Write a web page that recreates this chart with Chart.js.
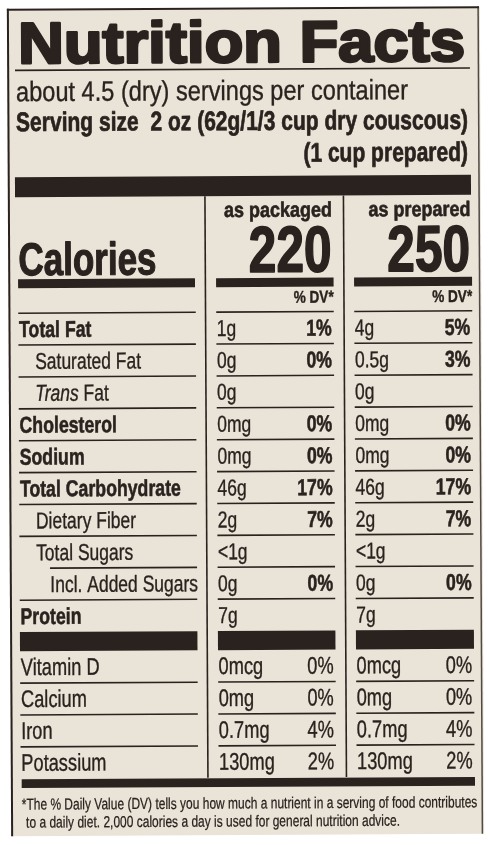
<!DOCTYPE html>
<html>
<head>
<meta charset="utf-8">
<script src="https://cdn.jsdelivr.net/npm/chart.js@4.4.1/dist/chart.umd.min.js"></script>
<style>
  html,body{margin:0;padding:0;background:#ffffff;}
  canvas{display:block;}
</style>
</head>
<body>
<canvas id="c" width="490" height="845"></canvas>
<script>
// ---------- DATA ----------
const titleText = 'Nutrition Facts';
const servingsText = 'about 4.5 (dry) servings per container';
const servingSizeText = 'Serving size  2 oz (62g/1/3 cup dry couscous)';
const servingSize2Text = '(1 cup prepared)';
const columnHeads = ['as packaged', 'as prepared'];
const calories = [220, 250];
const dvHead = '% DV*';
const nutrients = ['Total Fat','Saturated Fat','Trans Fat','Cholesterol','Sodium','Total Carbohydrate',
  'Dietary Fiber','Total Sugars','Incl. Added Sugars','Protein','Vitamin D','Calcium','Iron','Potassium'];
const packagedAmount = ['1g','0g','0g','0mg','0mg','46g','2g','<1g','0g','7g','0mcg','0mg','0.7mg','130mg'];
const packagedDV = ['1%','0%','','0%','0%','17%','7%','','0%','','0%','0%','4%','2%'];
const preparedAmount = ['4g','0.5g','0g','0mg','0mg','46g','2g','<1g','0g','7g','0mcg','0mg','0.7mg','130mg'];
const preparedDV = ['5%','3%','','0%','0%','17%','7%','','0%','','0%','0%','4%','2%'];
const footnote = ['*The % Daily Value (DV) tells you how much a nutrient in a serving of food contributes',
  'to a daily diet. 2,000 calories a day is used for general nutrition advice.'];

// ---------- STYLE ----------
const INK = '#2a221f';
const PAPER = '#e9e4d7';
const FAMILY = '"Liberation Sans", Arial, Helvetica, sans-serif';
const boldRows = new Set(['Total Fat','Cholesterol','Sodium','Total Carbohydrate','Protein']);
const indentLevel = {'Saturated Fat':1,'Trans Fat':1,'Dietary Fiber':1,'Total Sugars':1,'Incl. Added Sugars':2};
const INDENTS = [19.5, 35.4, 49.4];
const vitStart = nutrients.indexOf('Vitamin D');
const GAP = 0.6;            // thick separator between macro and micro nutrients (in row units)
const rowPos = i => i + (i >= vitStart ? GAP : 0);
const LEFT = {x0:18.8, x1:196.3};
const COLS = [
  {x0:216.8, x1:334.3, amt:packagedAmount, dv:packagedDV},
  {x0:354.8, x1:472.8, amt:preparedAmount, dv:preparedDV}
];
const REG_STROKE = 0.35, BOLD_STROKE = 0.55;

function font(size, weight, style){ return `${style||'normal'} ${weight||'normal'} ${size}px ${FAMILY}`; }
function fit(ctx, s, f, target){ ctx.font = f; return target / ctx.measureText(s).width; }
function txt(ctx, s, x, y, f, align, sx, stroke){
  ctx.save();
  ctx.font = f;
  ctx.translate(x, y);
  ctx.scale(sx || 1, 1);
  ctx.textAlign = align || 'left';
  ctx.textBaseline = 'alphabetic';
  ctx.fillStyle = INK;
  ctx.fillText(s, 0, 0);
  if (stroke) { ctx.strokeStyle = INK; ctx.lineWidth = stroke; ctx.lineJoin = 'round'; ctx.strokeText(s, 0, 0); }
  ctx.restore();
}
function rect(ctx, x0, y0, x1, y1){ ctx.fillStyle = INK; ctx.fillRect(x0, y0, x1 - x0, y1 - y0); }

const labelPlugin = {
  id: 'nutritionLabel',
  afterDraw(chart){
    const ctx = chart.ctx;
    const ys = chart.scales.y;
    const pts = chart.getDatasetMeta(0).data;
    ctx.save();
    ctx.fillStyle = '#ffffff';
    ctx.fillRect(0, 0, chart.width, chart.height);
    // slight tilt of the photographed label
    ctx.translate(245, 420); ctx.rotate(-0.0052); ctx.translate(-245, -420);
    ctx.fillStyle = PAPER;
    ctx.fillRect(9, 8, 473, 827);
    // frame
    rect(ctx, 9, 7.5, 481, 9.5);
    rect(ctx, 9, 7.5, 11, 835);
    ctx.globalAlpha = 0.8; rect(ctx, 479.5, 7.5, 481, 835); ctx.globalAlpha = 1;

    // title
    const tf = font(58, 'bold');
    txt(ctx, titleText, 20, 62, tf, 'left', fit(ctx, titleText, tf, 447), 2.6);
    rect(ctx, 16.8, 68.3, 471.8, 70);
    const sf = font(28, 'normal');
    txt(ctx, servingsText, 17.7, 100, sf, 'left', fit(ctx, servingsText, sf, 392), REG_STROKE);
    const bf = font(27, 'bold');
    const bsx = fit(ctx, servingSizeText, bf, 452);
    txt(ctx, servingSizeText, 17.6, 130, bf, 'left', bsx, 0.7);
    txt(ctx, servingSize2Text, 469.4, 162, bf, 'right', bsx, 0.7);
    rect(ctx, 16.2, 176, 472.2, 196);

    // column headers and calories
    const hf = font(21, 'bold');
    const hsx = fit(ctx, columnHeads[0], hf, 108);
    const cf = font(65, 'bold');
    const csx = fit(ctx, String(calories[0]), cf, 83);
    const df = font(17, 'bold');
    const dsx = fit(ctx, dvHead, df, 40);
    COLS.forEach((c, k) => {
      txt(ctx, columnHeads[k], c.x1 - 1.2, 217, hf, 'right', hsx, 0.6);
      txt(ctx, String(calories[k]), c.x1 - 1.8, 272, cf, 'right', csx, 1.6);
      rect(ctx, c.x0, 278, c.x1, 287);
      txt(ctx, dvHead, c.x1, 303, df, 'right', dsx, 0.4);
    });
    const calf = font(46, 'bold');
    txt(ctx, 'Calories', 19.3, 274, calf, 'left', fit(ctx, 'Calories', calf, 138), 1.2);
    rect(ctx, LEFT.x0, 278, LEFT.x1 - 0.6, 287);

    // rows
    const regSx = fit(ctx, 'Saturated Fat', font(23, 'normal'), 106);
    const boldSx = fit(ctx, 'Total Carbohydrate', font(23, 'bold'), 161);
    const top = i => ys.getPixelForValue(rowPos(i) - 0.5);
    const bot = i => ys.getPixelForValue(rowPos(i) + 0.5);
    const LW = 1.6;
    // line above first row
    [LEFT, ...COLS].forEach(c => rect(ctx, c.x0, top(0) - LW / 2, c.x1, top(0) + LW / 2));
    nutrients.forEach((name, i) => {
      const cy = pts[i].y;
      const base = cy + 8;
      const size = i >= vitStart ? 24 : 23;
      const lvl = indentLevel[name] || 0;
      const isBold = boldRows.has(name);
      if (name === 'Trans Fat') {
        const itf = font(size, 'normal', 'italic');
        txt(ctx, 'Trans', INDENTS[lvl], base, itf, 'left', regSx, REG_STROKE);
        ctx.font = itf;
        const w = ctx.measureText('Trans').width * regSx;
        txt(ctx, ' Fat', INDENTS[lvl] + w, base, font(size, 'normal'), 'left', regSx, REG_STROKE);
      } else {
        txt(ctx, name, INDENTS[lvl], base, font(size, isBold ? 'bold' : 'normal'), 'left',
            isBold ? boldSx : regSx, isBold ? BOLD_STROKE : REG_STROKE);
      }
      COLS.forEach(c => {
        txt(ctx, c.amt[i], c.x0 + 0.4, base, font(size, 'normal'), 'left', regSx, REG_STROKE);
        if (c.dv[i]) {
          const micro = i >= vitStart;
          txt(ctx, c.dv[i], c.x1 - 2, base, font(size, micro ? 'normal' : 'bold'), 'right',
              micro ? regSx : boldSx, micro ? REG_STROKE : BOLD_STROKE);
        }
      });
      // separators
      const y = bot(i);
      if (i === vitStart - 1) {
        [LEFT, ...COLS].forEach(c => rect(ctx, c.x0, y, c.x1, top(i + 1)));
      } else if (i < nutrients.length - 1) {
        const nextLvl = indentLevel[nutrients[i + 1]] || 0;
        const lx0 = nextLvl === 2 ? INDENTS[2] - 0.2 : LEFT.x0;
        rect(ctx, lx0, y - LW / 2, LEFT.x1, y + LW / 2);
        COLS.forEach(c => rect(ctx, c.x0, y - LW / 2, c.x1, y + LW / 2));
      }
    });
    const yEnd = bot(nutrients.length - 1);
    // vertical column dividers
    rect(ctx, 205.3, 196, 206.9, yEnd);
    rect(ctx, 343.8, 196, 345.4, yEnd);
    // bottom thick bar
    rect(ctx, 19.8, yEnd + 0.5, 473.1, yEnd + 9.3);

    // footnote
    const ff = font(16, 'normal');
    const fsx = fit(ctx, footnote[0], ff, 455.6);
    txt(ctx, footnote[0], 19.7, 808.5, ff, 'left', fsx, 0.25);
    txt(ctx, footnote[1], 24, 826.5, ff, 'left', fsx, 0.25);
    ctx.restore();
  }
};

const yMax = rowPos(nutrients.length - 1) + 0.5;
new Chart(document.getElementById('c').getContext('2d'), {
  type: 'scatter',
  data: {
    labels: nutrients,
    datasets: [{
      label: 'rows',
      data: nutrients.map((n, i) => ({x: 0, y: rowPos(i)})),
      pointRadius: 0, pointHoverRadius: 0, borderWidth: 0
    }]
  },
  options: {
    responsive: false,
    animation: false,
    events: [],
    layout: {padding: {top: 312, bottom: 845 - 777.6, left: 0, right: 0}},
    plugins: {legend: {display: false}, tooltip: {enabled: false}},
    scales: {
      x: {type: 'linear', display: false, min: 0, max: 490},
      y: {type: 'linear', display: false, min: -0.5, max: yMax, reverse: true}
    }
  },
  plugins: [labelPlugin]
});
</script>
</body>
</html>
